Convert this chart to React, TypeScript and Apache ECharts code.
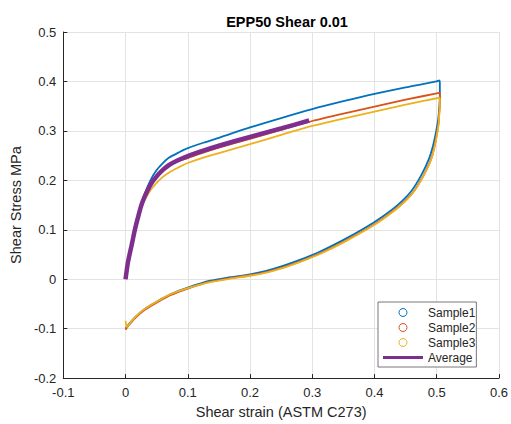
import React, { useEffect, useRef } from "react";
import * as echarts from "echarts";

// ---- Data ----
const loadStrain = [0, 0.004, 0.01, 0.015, 0.02, 0.025, 0.03, 0.04, 0.05, 0.06, 0.07, 0.085, 0.1, 0.125, 0.15, 0.2, 0.25, 0.3, 0.35, 0.4, 0.45, 0.5, 0.504];

const s1LoadStress = [0, 0.035, 0.07, 0.1, 0.126, 0.15, 0.17, 0.2, 0.221, 0.235, 0.246, 0.256, 0.265, 0.276, 0.286, 0.307, 0.326, 0.344, 0.36, 0.375, 0.388, 0.4, 0.402];
const s2LoadStress = [0, 0.035, 0.07, 0.1, 0.125, 0.147, 0.164, 0.19, 0.207, 0.22, 0.23, 0.239, 0.245, 0.256, 0.266, 0.284, 0.302, 0.32, 0.335, 0.349, 0.363, 0.376, 0.377];
const s3LoadStress = [0, 0.035, 0.07, 0.099, 0.123, 0.143, 0.158, 0.18, 0.195, 0.207, 0.216, 0.226, 0.235, 0.246, 0.255, 0.273, 0.292, 0.31, 0.325, 0.339, 0.353, 0.366, 0.367];

const s1UnloadStrain = [0.505, 0.505, 0.504, 0.502, 0.496, 0.488, 0.475, 0.459, 0.438, 0.412, 0.385, 0.348, 0.311, 0.28, 0.253, 0.226, 0.2, 0.168, 0.136, 0.1, 0.073, 0.052, 0.031, 0.015, 0.004, 0];
const s1UnloadStress = [0.398, 0.37, 0.345, 0.32, 0.28, 0.245, 0.21, 0.178, 0.151, 0.126, 0.104, 0.078, 0.055, 0.039, 0.027, 0.017, 0.01, 0.004, -0.003, -0.017, -0.03, -0.044, -0.06, -0.077, -0.093, -0.1];

const s2UnloadStrain = [0.505, 0.505, 0.504, 0.503, 0.498, 0.491, 0.478, 0.462, 0.441, 0.415, 0.388, 0.351, 0.314, 0.283, 0.256, 0.228, 0.2, 0.168, 0.136, 0.1, 0.073, 0.052, 0.031, 0.015, 0.004, 0];
const s2UnloadStress = [0.374, 0.355, 0.335, 0.315, 0.278, 0.243, 0.208, 0.176, 0.149, 0.124, 0.102, 0.076, 0.053, 0.037, 0.025, 0.015, 0.008, 0.002, -0.005, -0.019, -0.032, -0.046, -0.062, -0.079, -0.095, -0.102];

const s3UnloadStrain = [0.505, 0.505, 0.504, 0.503, 0.498, 0.491, 0.478, 0.462, 0.441, 0.415, 0.388, 0.351, 0.314, 0.283, 0.256, 0.228, 0.2, 0.168, 0.136, 0.1, 0.073, 0.052, 0.031, 0.015, 0.006, 0.002, 0];
const s3UnloadStress = [0.364, 0.35, 0.332, 0.313, 0.276, 0.242, 0.207, 0.175, 0.148, 0.123, 0.101, 0.075, 0.052, 0.036, 0.024, 0.014, 0.007, 0.001, -0.006, -0.018, -0.03, -0.044, -0.06, -0.077, -0.091, -0.097, -0.084];

const avgStrain = [0, 0.004, 0.01, 0.015, 0.02, 0.025, 0.03, 0.04, 0.05, 0.06, 0.07, 0.085, 0.1, 0.125, 0.15, 0.2, 0.25, 0.295];
const avgStress = [0, 0.035, 0.07, 0.1, 0.125, 0.148, 0.165, 0.191, 0.208, 0.221, 0.231, 0.241, 0.249, 0.26, 0.27, 0.288, 0.305, 0.321];

const seriesNames = ["Sample1", "Sample2", "Sample3", "Average"];
const colors = ["#0072BD", "#D95319", "#EDB120", "#7E2F8E"];

const zip = (xs: number[], ys: number[]) => xs.map((x, i) => [x, ys[i]]);

export default function App() {
  const ref = useRef<HTMLDivElement>(null);
  useEffect(() => {
    if (!ref.current) return;
    const chart = echarts.init(ref.current, undefined, { renderer: "svg" });
    const textColor = "#262626";
    const font = "'Liberation Sans', Arial, Helvetica, sans-serif";
    const sampleData = [
      [...zip(loadStrain, s1LoadStress), ...zip(s1UnloadStrain, s1UnloadStress)],
      [...zip(loadStrain, s2LoadStress), ...zip(s2UnloadStrain, s2UnloadStress)],
      [...zip(loadStrain, s3LoadStress), ...zip(s3UnloadStrain, s3UnloadStress)],
    ];
    const axisCommon = {
      type: "value" as const,
      interval: 0.1,
      nameLocation: "middle" as const,
      nameTextStyle: { color: textColor, fontSize: 14.5, fontFamily: font },
      axisLine: { show: true, onZero: false, lineStyle: { color: textColor, width: 1 } },
      axisTick: { show: true, inside: true, length: 4, lineStyle: { color: textColor } },
      axisLabel: { color: textColor, fontSize: 13, fontFamily: font },
      splitLine: { show: true, lineStyle: { color: "#e3e3e3", width: 1 } },
    };
    chart.setOption({
      animation: false,
      backgroundColor: "#ffffff",
      title: {
        text: "EPP50 Shear 0.01",
        left: 282,
        textAlign: "center",
        top: 9,
        textStyle: { fontSize: 14.5, fontWeight: "bold", color: "#000", fontFamily: font },
      },
      grid: { left: 62, right: 9, top: 32, bottom: 44, containLabel: false },
      xAxis: {
        ...axisCommon,
        min: -0.1,
        max: 0.6,
        name: "Shear strain (ASTM C273)",
        nameGap: 22,
        axisLabel: { ...axisCommon.axisLabel, margin: 8 },
      },
      yAxis: {
        ...axisCommon,
        min: -0.2,
        max: 0.5,
        name: "Shear Stress MPa",
        nameGap: 33,
        axisLabel: { ...axisCommon.axisLabel, margin: 7 },
      },
      legend: {
        left: 378,
        top: 302,
        orient: "vertical",
        padding: [4, 1, 3, 5],
        itemGap: 2,
        itemWidth: 40,
        itemHeight: 8,
        backgroundColor: "#ffffff",
        borderColor: "#555555",
        borderWidth: 0.8,
        borderRadius: 0,
        textStyle: { color: textColor, fontSize: 12, fontFamily: font, lineHeight: 13, width: 46, overflow: "none" },
        data: [
          ...seriesNames.slice(0, 3).map((n, i) => ({
            name: n,
            icon: "circle",
            itemStyle: { color: "none", borderColor: colors[i], borderWidth: 1 },
          })),
          {
            name: seriesNames[3],
            icon: "path://M0,0h40v3h-40z",
            itemStyle: { color: colors[3], borderWidth: 0 },
          },
        ],
      },
      series: [
        ...sampleData.map((d, i) => ({
          name: seriesNames[i],
          type: "line",
          data: d,
          showSymbol: false,
          smooth: 0.25,
          color: colors[i],
          lineStyle: { color: colors[i], width: 1.8 },
          z: 2 + i,
        })),
        {
          name: seriesNames[3],
          type: "line",
          data: zip(avgStrain, avgStress),
          showSymbol: false,
          smooth: 0.25,
          color: colors[3],
          lineStyle: { color: colors[3], width: 4.5 },
          z: 10,
        },
      ],
    });
    return () => chart.dispose();
  }, []);
  return (
    <div
      ref={ref}
      style={{ position: "fixed", left: 0, top: 0, width: 511, height: 424, background: "#fff" }}
    />
  );
}
